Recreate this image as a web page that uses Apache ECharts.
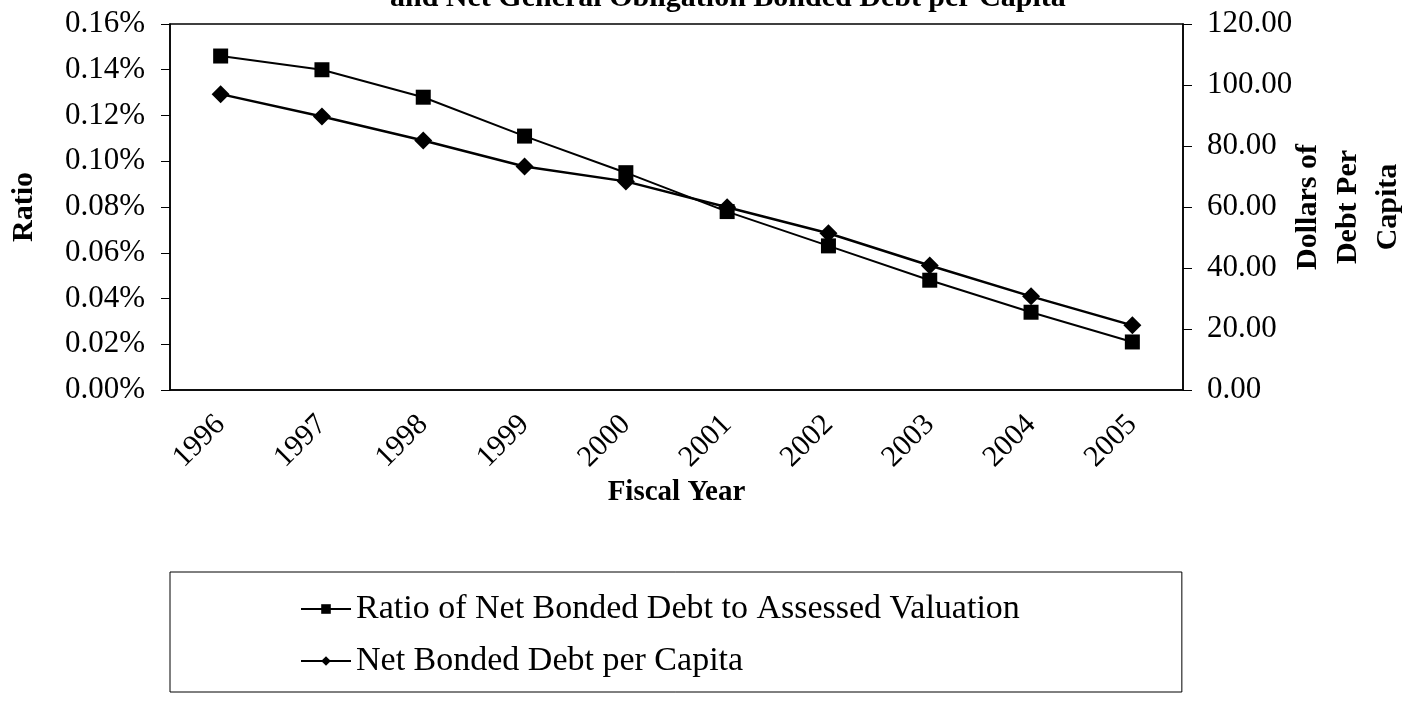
<!DOCTYPE html>
<html>
<head>
<meta charset="utf-8">
<script src="https://cdn.jsdelivr.net/npm/echarts@6/dist/echarts.min.js"></script>
<style>
  html, body { margin: 0; padding: 0; background: #fff; }
  #chart { width: 1419px; height: 702px; }
</style>
</head>
<body>
<div id="chart"></div>
<script>
// data
var years = ['1996', '1997', '1998', '1999', '2000', '2001', '2002', '2003', '2004', '2005'];
// ratio in percent (0.146 -> 0.146%)
var ratioDebt = [0.146, 0.140, 0.128, 0.111, 0.095, 0.078, 0.063, 0.048, 0.034, 0.021];
// dollars of debt per capita
var perCapita = [97.0, 89.7, 81.8, 73.3, 68.4, 59.9, 51.4, 40.8, 30.7, 21.2];

var serif = '"Liberation Serif", "Times New Roman", serif';

var chart = echarts.init(document.getElementById('chart'));
chart.setOption({
  backgroundColor: '#fff',
  animation: false,
  title: {
    text: 'and Net General Obligation Bonded Debt per Capita',
    left: 385,
    top: -22,
    textStyle: { fontFamily: serif, fontSize: 30, fontWeight: 'bold', color: '#000' }
  },
  grid: {
    left: 170, right: 236, top: 24, bottom: 312,
    outerBoundsMode: 'none',
    containLabel: false,
    show: true, borderColor: '#000', borderWidth: 1.5
  },
  legend: {
    orient: 'vertical',
    left: 170,
    top: 572,
    itemWidth: 50,
    itemHeight: 12,
    itemGap: 16,
    padding: [19, 162, 13, 130],
    borderColor: '#000',
    borderWidth: 1,
    textStyle: { fontFamily: serif, fontSize: 34, color: '#000', lineHeight: 36 },
    data: ['Ratio of Net Bonded Debt to Assessed Valuation', 'Net Bonded Debt per Capita']
  },
  xAxis: {
    type: 'category',
    data: years,
    boundaryGap: true,
    name: 'Fiscal Year',
    nameLocation: 'middle',
    nameGap: 88,
    nameMoveOverlap: false,
    nameTextStyle: { fontFamily: serif, fontSize: 29, fontWeight: 'bold', color: '#000' },
    axisLine: { lineStyle: { color: '#000', width: 1.5 } },
    axisTick: { length: 9, lineStyle: { color: '#000' } },
    axisLabel: { rotate: 45, margin: 30, fontFamily: serif, fontSize: 30, color: '#000' }
  },
  yAxis: [
    {
      type: 'value',
      min: 0, max: 0.16, interval: 0.02,
      name: 'Ratio',
      nameLocation: 'middle',
      nameGap: 131,
      nameRotate: 90,
      nameMoveOverlap: false,
      nameTextStyle: { fontFamily: serif, fontSize: 30, fontWeight: 'bold', color: '#000' },
      splitLine: { show: false },
      axisLine: { show: true, lineStyle: { color: '#000', width: 1.5 } },
      axisTick: { show: true, length: 9, lineStyle: { color: '#000' } },
      axisLabel: {
        margin: 25, fontFamily: serif, fontSize: 31, color: '#000',
        formatter: function (v) { return v.toFixed(2) + '%'; }
      }
    },
    {
      type: 'value',
      position: 'right',
      min: 0, max: 120, interval: 20,
      name: 'Dollars of\nDebt Per\nCapita',
      nameLocation: 'middle',
      nameGap: 105,
      nameRotate: 90,
      nameMoveOverlap: false,
      nameTextStyle: { fontFamily: serif, fontSize: 30, fontWeight: 'bold', color: '#000', lineHeight: 40 },
      splitLine: { show: false },
      axisLine: { show: true, lineStyle: { color: '#000', width: 1.5 } },
      axisTick: { show: true, length: 9, lineStyle: { color: '#000' } },
      axisLabel: {
        margin: 24, fontFamily: serif, fontSize: 31, color: '#000',
        formatter: function (v) { return v.toFixed(2); }
      }
    }
  ],
  series: [
    {
      name: 'Ratio of Net Bonded Debt to Assessed Valuation',
      type: 'line',
      yAxisIndex: 0,
      data: ratioDebt,
      symbol: 'rect',
      symbolSize: 15,
      lineStyle: { color: '#000', width: 2 },
      itemStyle: { color: '#000' }
    },
    {
      name: 'Net Bonded Debt per Capita',
      type: 'line',
      yAxisIndex: 1,
      data: perCapita,
      symbol: 'diamond',
      symbolSize: 18,
      lineStyle: { color: '#000', width: 2.5 },
      itemStyle: { color: '#000' }
    }
  ]
});
</script>
</body>
</html>
